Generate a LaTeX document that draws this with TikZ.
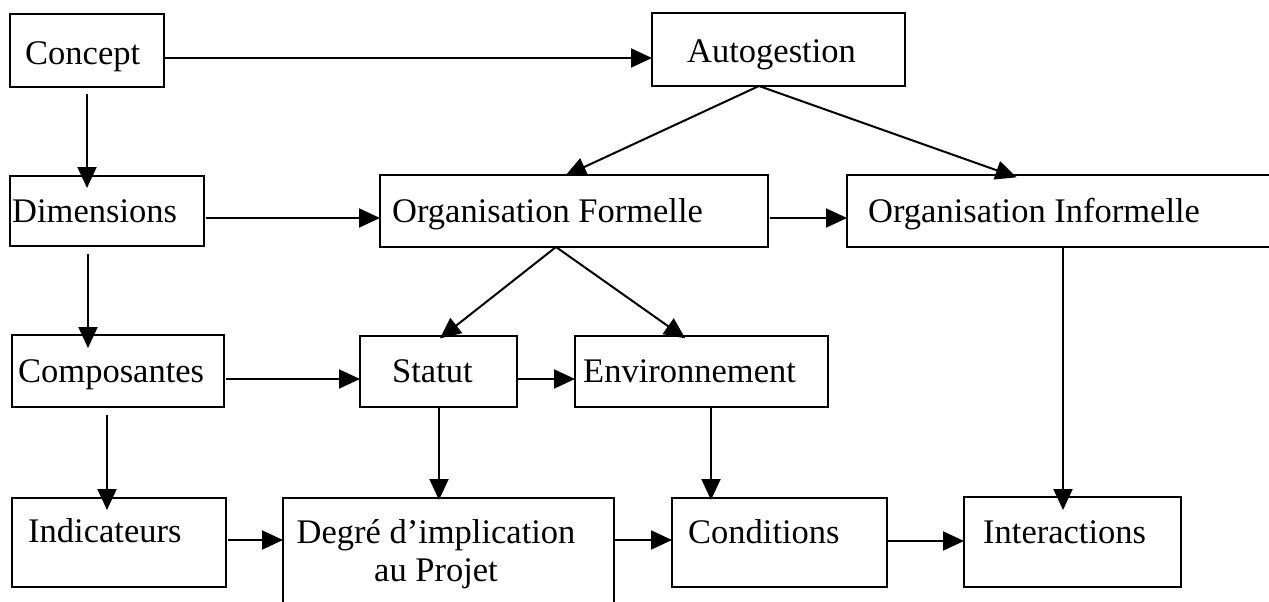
\documentclass[tikz,border=0pt]{standalone}
\usepackage{fontspec}
\setmainfont{Liberation Serif}
\usetikzlibrary{arrows.meta}
\tikzset{
  box/.style={draw, line width=2pt, inner sep=0pt, outer sep=0pt, anchor=north west},
  lbl/.style={anchor=base west, inner sep=0pt, font=\fontsize{34.5}{38}\selectfont},
  arr/.style={line width=2pt, -{Triangle[length=21pt,width=19pt]}},
}
\begin{document}
\begin{tikzpicture}[x=1pt,y=-1pt]
\useasboundingbox (0,0) rectangle (1269,602);
\clip (0,0) rectangle (1269,602);
% boxes
\node[box, minimum width=154pt, minimum height=73pt] (concept) at (10,14) {};
\node[box, minimum width=253pt, minimum height=73pt] (autog) at (652,13) {};
\node[box, minimum width=194pt, minimum height=70pt] (dim) at (10,176) {};
\node[box, minimum width=388pt, minimum height=72pt] (orgf) at (380,175) {};
\node[box, minimum width=433pt, minimum height=72pt] (orgi) at (847,175) {};
\node[box, minimum width=212pt, minimum height=72pt] (comp) at (12,335) {};
\node[box, minimum width=157pt, minimum height=71pt] (statut) at (360,336) {};
\node[box, minimum width=253pt, minimum height=71pt] (env) at (575,336) {};
\node[box, minimum width=214pt, minimum height=89pt] (ind) at (12,498) {};
\node[box, minimum width=331pt, minimum height=122pt] (degre) at (283,498) {};
\node[box, minimum width=215pt, minimum height=89pt] (cond) at (672,498) {};
\node[box, minimum width=217pt, minimum height=90pt] (inter) at (964,497) {};
% labels
\node[lbl] (tconcept) at (25,64) {Concept};
\node[lbl] (tautog) at (687,63) {Autogestion};
\node[lbl] (tdim) at (12,222) {Dimensions};
\node[lbl] (torgf) at (392,222) {Organisation Formelle};
\node[lbl] (torgi) at (868,222) {Organisation Informelle};
\node[lbl] (tcomp) at (18,382) {Composantes};
\node[lbl] (tstatut) at (392,382) {Statut};
\node[lbl] (tenv) at (583,382) {Environnement};
\node[lbl] (tind) at (28,542) {Indicateurs};
\node[lbl, anchor=base, align=center] (tdegre) at (436,581) {Degré d’implication\\au Projet};
\node[lbl] (tcond) at (688,543) {Conditions};
\node[lbl] (tinter) at (983,543) {Interactions};
% horizontal connectors
\draw[arr] (concept.east |- 0,58) -- (autog.west |- 0,58);
\draw[arr, shorten <=2pt] (dim.east |- 0,218) -- (orgf.west |- 0,218);
\draw[arr, shorten <=2pt] (orgf.east |- 0,218) -- (orgi.west |- 0,218);
\draw[arr, shorten <=2pt] (comp.east |- 0,379) -- (statut.west |- 0,379);
\draw[arr] (statut.east |- 0,379) -- (env.west |- 0,379);
\draw[arr, shorten <=2pt] (ind.east |- 0,540) -- (degre.west |- 0,540);
\draw[arr] (degre.east |- 0,540) -- (cond.west |- 0,540);
\draw[arr] (cond.east |- 0,541) -- (inter.west |- 0,541);
% vertical connectors
\draw[arr, shorten <=7pt, shorten >=-12pt] (concept.south -| 87,0) -- (dim.north -| 87,0);
\draw[arr, shorten <=8pt, shorten >=-13pt] (dim.south -| 88,0) -- (comp.north -| 88,0);
\draw[arr, shorten <=8pt, shorten >=-12pt] (comp.south -| 107,0) -- (ind.north -| 107,0);
\draw[arr, shorten >=-2pt] (statut.south -| 439,0) -- (degre.north -| 439,0);
\draw[arr, shorten >=-2pt] (env.south -| 711,0) -- (cond.north -| 711,0);
\draw[arr, shorten >=-13pt] (orgi.south -| 1063,0) -- (inter.north -| 1063,0);
% diagonal connectors
\draw[arr, shorten >=-2pt] (autog.south -| 759,0) -- (orgf.north -| 567,0);
\draw[arr, shorten >=-7pt] (autog.south -| 759,0) -- (orgi.north -| 1010,0);
\draw[arr, shorten >=-4pt] (orgf.south -| 556,0) -- (statut.north -| 443,0);
\draw[arr, shorten >=-4pt] (orgf.south -| 556,0) -- (env.north -| 682,0);
\end{tikzpicture}
\end{document}
